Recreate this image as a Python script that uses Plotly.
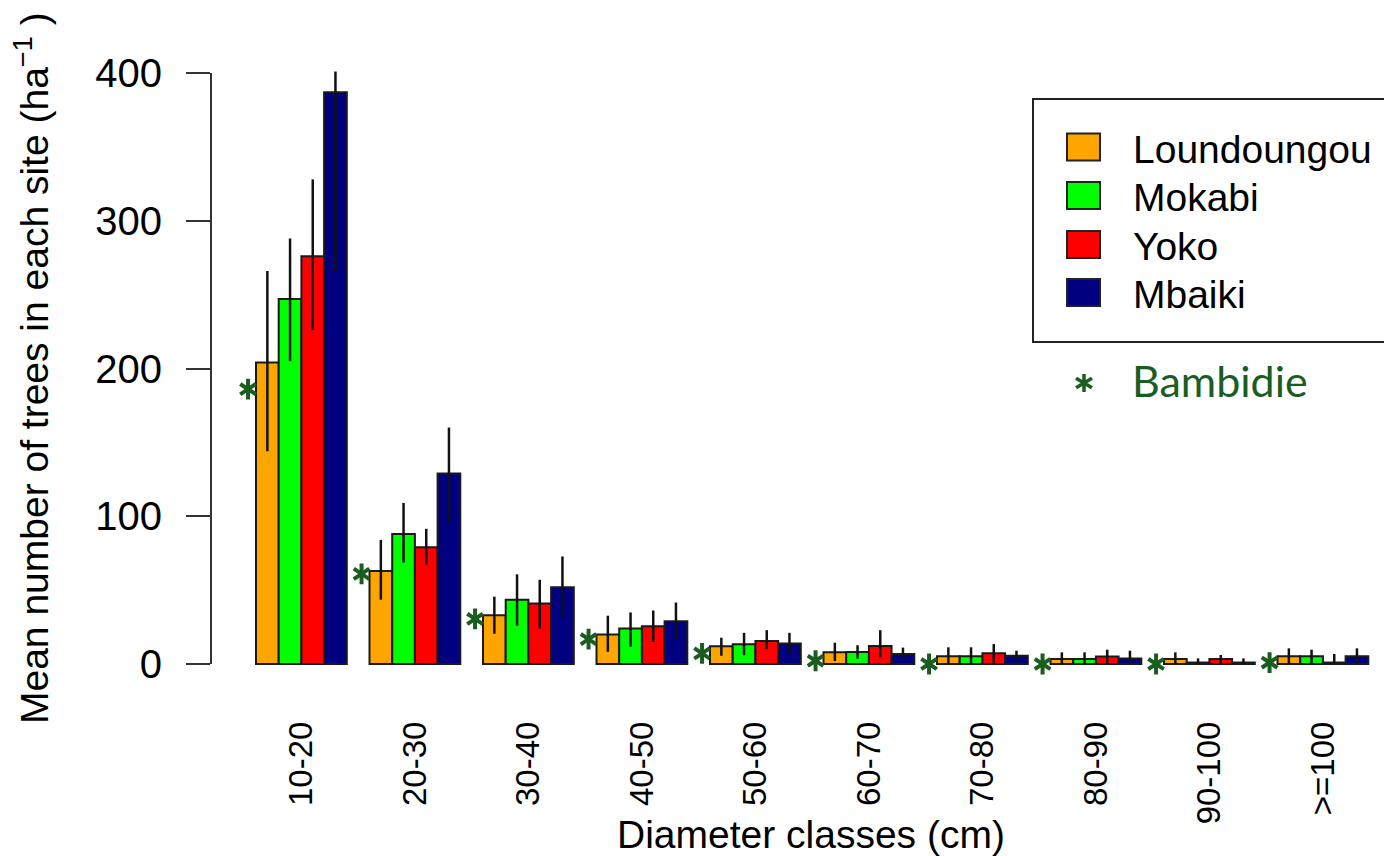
import plotly.graph_objects as go

# ---------------- data ----------------
classes = ["10-20", "20-30", "30-40", "40-50", "50-60", "60-70", "70-80", "80-90", "90-100", ">=100"]
sites = ["Loundoungou", "Mokabi", "Yoko", "Mbaiki"]

loundoungou = [204, 63, 33, 20, 12, 8, 5.2, 3.4, 3.4, 5.2]
mokabi = [247, 88, 43.5, 24, 13.3, 8.2, 5.2, 3.4, 1, 5.2]
yoko = [276, 79, 41, 25.6, 15.6, 12.2, 7.2, 5, 3.4, 1]
mbaiki = [387, 129, 52, 29, 13.8, 6.7, 5.6, 3.8, 1, 5.2]

# error bar ends (upper / lower)
loundoungou_hi = [266, 84, 45.6, 32.7, 17.8, 14.4, 11.3, 7.9, 7.9, 10.6]
loundoungou_lo = [144, 43.5, 20.5, 8.2, 5.6, 2, 0, 0, 0, 0]
mokabi_hi = [288, 109, 60.7, 34.9, 21.1, 12.7, 11.3, 7.9, 3.8, 9.7]
mokabi_lo = [205, 68.7, 25.9, 11.8, 6, 3.7, 0, 0, 0, 0.7]
yoko_hi = [328, 91.5, 57, 36.2, 22.9, 22.9, 13.5, 9.7, 6.1, 6.8]
yoko_lo = [226, 67.3, 24, 14.9, 10, 4.4, 0.9, 0.3, 0.7, 0]
mbaiki_hi = [401, 160, 72.8, 41.6, 21.1, 11.1, 9, 9, 3.8, 10.6]
mbaiki_lo = [266, 95.5, 31, 16.7, 6.7, 3, 2, 0, 0, 0]

bambidie = [186, 61, 30.5, 16.8, 7.2, 2.2, 0, 0, 0, 1]

y_ticks = [0, 100, 200, 300, 400]

# ---------------- styling ----------------
colors = ["#FFA500", "#00FF00", "#FF0000", "#000080"]
star_color = "#1a5e1f"
FONT = "Liberation Sans, Arial, sans-serif"

W, H = 1384, 856
ML, MR, MT, MB = 211, 4, 49, 168
PW, PH = W - ML - MR, H - MT - MB


def px_x(px):
    return (px - ML) / PW


def px_y(py):
    return (H - MB - py) / PH


x_idx = list(range(len(classes)))
series = [
    (loundoungou, loundoungou_hi, loundoungou_lo),
    (mokabi, mokabi_hi, mokabi_lo),
    (yoko, yoko_hi, yoko_lo),
    (mbaiki, mbaiki_hi, mbaiki_lo),
]

fig = go.Figure()
for name, col, (vals, hi, lo) in zip(sites, colors, series):
    fig.add_trace(go.Bar(
        x=x_idx, y=vals, name=name, showlegend=False,
        marker=dict(color=col, line=dict(color="#1a1a1a", width=2)),
        error_y=dict(type="data", symmetric=False,
                     array=[h - v for h, v in zip(hi, vals)],
                     arrayminus=[v - l for v, l in zip(vals, lo)],
                     color="#111111", thickness=2.5, width=0),
    ))

star_offset = -0.47
star_x = [i + star_offset for i in x_idx]
for sym in ["y-up", "y-down"]:
    fig.add_trace(go.Scatter(
        x=star_x, y=bambidie, mode="markers", showlegend=False, cliponaxis=False,
        marker=dict(symbol=sym, size=13, color=star_color,
                    line=dict(color=star_color, width=4)),
        hoverinfo="skip",
    ))

shapes = []
annotations = []

# y axis line from 0 to 400 (R style)
shapes.append(dict(type="line", xref="paper", yref="y", x0=0, x1=0, y0=0, y1=400,
                   line=dict(color="#333333", width=2)))

# legend box
shapes.append(dict(type="rect", xref="paper", yref="paper",
                   x0=px_x(1033), x1=px_x(1410), y0=px_y(342), y1=px_y(99),
                   line=dict(color="#222222", width=2), fillcolor="white", layer="above"))
legend_centers = [147, 195.5, 244.5, 292.5]
for name, col, cy in zip(sites, colors, legend_centers):
    shapes.append(dict(type="rect", xref="paper", yref="paper",
                       x0=px_x(1067), x1=px_x(1100), y0=px_y(cy + 13.5), y1=px_y(cy - 13.5),
                       line=dict(color="#222222", width=2), fillcolor=col, layer="above"))
    annotations.append(dict(text=name, xref="paper", yref="paper", x=px_x(1131), y=px_y(cy + 2),
                            xanchor="left", yanchor="middle", showarrow=False,
                            font=dict(family=FONT, size=39, color="black")))

# Bambidie key (asterisk + label)
cx, cy = 1084, 383
path = (f"M{px_x(cx)},{px_y(cy - 9)} L{px_x(cx)},{px_y(cy + 9)} "
        f"M{px_x(cx - 8)},{px_y(cy - 4.8)} L{px_x(cx + 8)},{px_y(cy + 4.8)} "
        f"M{px_x(cx - 8)},{px_y(cy + 4.8)} L{px_x(cx + 8)},{px_y(cy - 4.8)}")
shapes.append(dict(type="path", xref="paper", yref="paper", path=path,
                   line=dict(color=star_color, width=3.5)))
annotations.append(dict(text="Bambidie", xref="paper", yref="paper", x=px_x(1130), y=px_y(381),
                        xanchor="left", yanchor="middle", showarrow=False,
                        font=dict(family="Lato, Carlito, sans-serif", size=43, color=star_color)))

# axis titles
annotations.append(dict(text="Diameter classes (cm)", xref="paper", yref="paper",
                        x=px_x(811), y=px_y(834), xanchor="center", yanchor="middle",
                        showarrow=False, font=dict(family=FONT, size=39, color="black")))
annotations.append(dict(text="Mean number of trees in each site (ha<sup>\u22121</sup> )",
                        xref="paper", yref="paper", x=px_x(31), y=px_y(368),
                        xanchor="center", yanchor="middle", textangle=-90,
                        showarrow=False, font=dict(family=FONT, size=39, color="black")))

fig.update_layout(
    width=W, height=H,
    margin=dict(l=ML, r=MR, t=MT, b=MB, autoexpand=False),
    plot_bgcolor="white", paper_bgcolor="white",
    barmode="group", bargap=0.2, bargroupgap=0,
    showlegend=False,
    shapes=shapes, annotations=annotations,
    xaxis=dict(range=[(ML - 301.4) / 113.5, (W - MR - 301.4) / 113.5],
               tickmode="array", tickvals=x_idx, ticktext=classes, tickangle=-90,
               showgrid=False, zeroline=False, showline=False, ticks="",
               tickfont=dict(family=FONT, size=33, color="black"),
               ticklabelstandoff=26),
    yaxis=dict(range=[-16.24, 416.24], tickmode="array", tickvals=y_ticks,
               showgrid=False, zeroline=False, showline=False,
               ticks="outside", ticklen=24, tickwidth=2, tickcolor="#333333",
               tickfont=dict(family=FONT, size=40, color="black"),
               ticklabelstandoff=16),
)

fig.write_html("out.html", config={"displayModeBar": False},
               post_script="document.body.style.margin='0px';document.body.style.overflow='hidden';")
